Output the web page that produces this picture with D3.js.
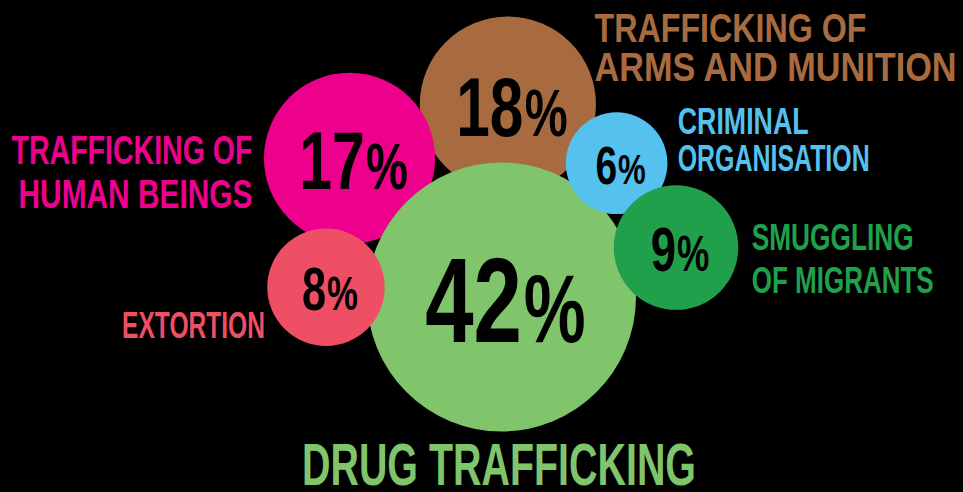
<!DOCTYPE html>
<html>
<head>
<meta charset="utf-8">
<script src="https://cdn.jsdelivr.net/npm/d3@7"></script>
<style>
  html, body { margin: 0; padding: 0; background: #000; }
  svg { display: block; }
</style>
</head>
<body>
<svg id="chart" width="963" height="492"></svg>
<script>
// ---------- DATA ----------
const categories = [
  "Drug trafficking",
  "Trafficking of arms and munition",
  "Trafficking of human beings",
  "Extortion",
  "Criminal organisation",
  "Smuggling of migrants"
];
const values = [42, 18, 17, 8, 6, 9];
const labelLines = [
  ["DRUG TRAFFICKING"],
  ["TRAFFICKING OF", "ARMS AND MUNITION"],
  ["TRAFFICKING OF", "HUMAN BEINGS"],
  ["EXTORTION"],
  ["CRIMINAL", "ORGANISATION"],
  ["SMUGGLING", "OF MIGRANTS"]
];

// ---------- STYLE ----------
const colors = ["#80c46b", "#a76b3f", "#ec008c", "#ee4f65", "#55c1ef", "#21a04b"];
const FONT = "'Liberation Sans Narrow', 'Liberation Sans', Arial, sans-serif";

// ---------- LAYOUT ----------
const W = 963, H = 492;
const mainCenter = [501.5, 297];
// satellites placed around the main bubble: angle (deg) and centre distance
const polar = [null, [-88.1, 192.6], [-137.6, 205.8], [-176.8, 175.8], [-49.3, 176.5], [-15.8, 181.4]];
const drawOrder = [1, 2, 0, 3, 4, 5];
const labelLayout = [
  { x: 499,   y: 485.3, gap: 0,    anchor: "middle", size: 58.3, widths: [394] },
  { x: 594.5, y: 42.3,  gap: 38.7, anchor: "start",  size: 41.5, widths: [272, 362] },
  { x: 252.5, y: 164.3, gap: 43.4, anchor: "end",    size: 40.5, widths: [241, 234] },
  { x: 265,   y: 338.3, gap: 0,    anchor: "end",    size: 36,   widths: [143] },
  { x: 677.7, y: 134,   gap: 36.7, anchor: "start",  size: 36,   widths: [131, 192] },
  { x: 751.7, y: 250,   gap: 43.3, anchor: "start",  size: 36,   widths: [162, 182] }
];

// ---------- SCALES ----------
const r = d3.scaleSqrt().domain([0, 42]).range([0, 134.5]);
const digitHeight = d3.scaleLinear().domain([r(6), r(42)]).range([39, 87]);
const CAP = 0.72;

const nodes = values.map((v, i) => {
  const rad = r(v);
  let cx = mainCenter[0], cy = mainCenter[1];
  if (polar[i]) {
    const a = polar[i][0] * Math.PI / 180;
    cx += polar[i][1] * Math.cos(a);
    cy += polar[i][1] * Math.sin(a);
  }
  return { i, value: v, cat: categories[i], r: rad, cx, cy, color: colors[i] };
});

const svg = d3.select("#chart");
svg.append("rect").attr("width", W).attr("height", H).attr("fill", "#000");

// bubbles
svg.append("g").selectAll("circle")
  .data(drawOrder.map(k => nodes[k]))
  .join("circle")
  .attr("cx", d => d.cx)
  .attr("cy", d => d.cy)
  .attr("r", d => d.r)
  .attr("fill", d => d.color);

// percentage labels
const pct = svg.append("g").selectAll("text")
  .data(nodes)
  .join("text")
  .attr("font-family", FONT)
  .attr("font-weight", "bold")
  .attr("fill", "#000")
  .attr("text-anchor", "middle")
  .attr("transform", d => {
    const h = digitHeight(d.r);
    return `translate(${d.cx + 4},${d.cy + h / 2 + 1}) scale(0.72,1)`;
  });
pct.append("tspan")
  .attr("font-size", d => digitHeight(d.r) / CAP)
  .text(d => d.value);
pct.append("tspan")
  .attr("dx", d => digitHeight(d.r) * 0.03)
  .attr("font-size", d => digitHeight(d.r) / CAP * 0.8)
  .text("%");

// category labels
const lab = svg.append("g").selectAll("g")
  .data(nodes)
  .join("g");
lab.each(function(d) {
  const L = labelLayout[d.i];
  d3.select(this).selectAll("text")
    .data(labelLines[d.i])
    .join("text")
    .attr("x", L.x)
    .attr("y", (t, j) => L.y + j * L.gap)
    .attr("text-anchor", L.anchor)
    .attr("font-family", FONT)
    .attr("font-weight", "bold")
    .attr("font-size", L.size)
    .attr("fill", d.color)
    .attr("textLength", (t, j) => L.widths[j])
    .attr("lengthAdjust", "spacingAndGlyphs")
    .text(t => t);
});
</script>
</body>
</html>
